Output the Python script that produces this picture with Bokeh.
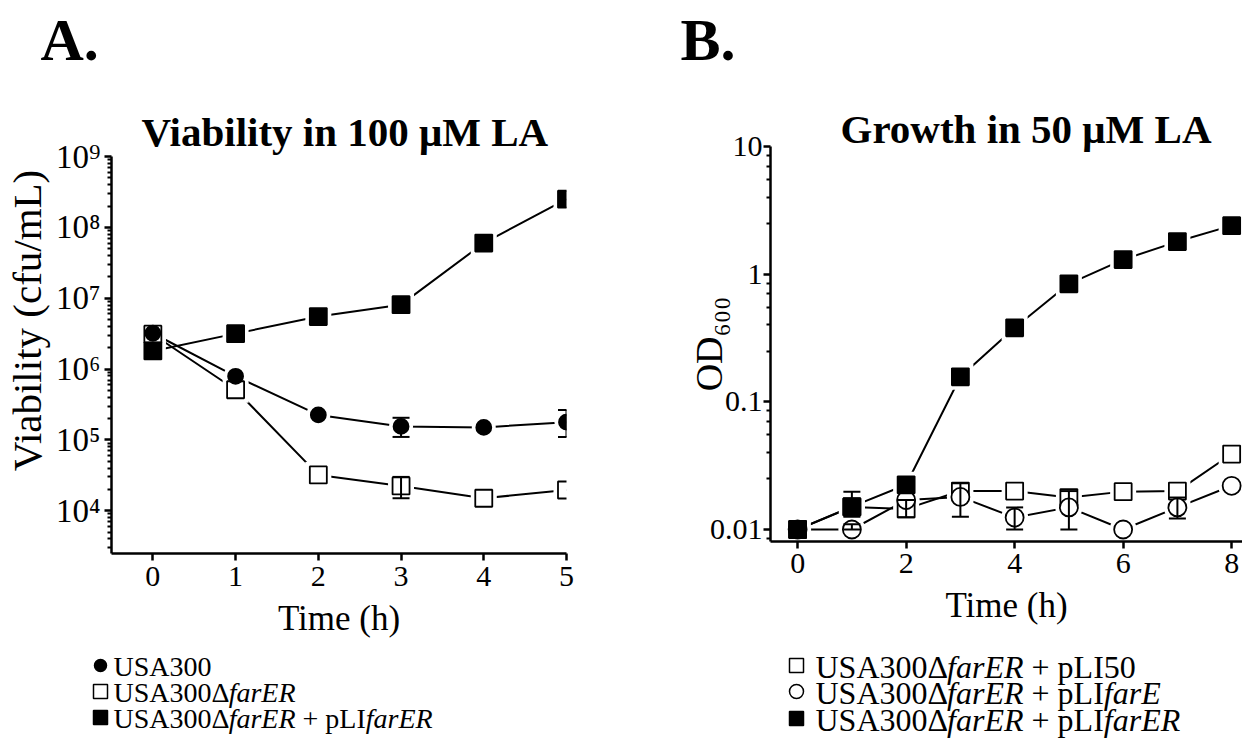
import math
from bokeh.plotting import figure
from bokeh.layouts import row, column
from bokeh.models import Range1d, FixedTicker
from bokeh.core.properties import value
from bokeh.embed import file_html
from bokeh.resources import INLINE

FONT = "Liberation Serif"

# ---------------- Panel A data: Viability in 100 uM LA ----------------
a_time = [0, 1, 2, 3, 4, 5]
a_usa300 = [3.2e6, 7.9e5, 2.25e5, 1.55e5, 1.5e5, 1.78e5]
a_delta = [3.1e6, 5.1e5, 3.2e4, 2.24e4, 1.5e4, 1.96e4]
a_comp = [1.8e6, 3.16e6, 5.5e6, 8.1e6, 6.0e7, 2.5e8]
a_usa300_err_t = [3, 5]
a_usa300_err_lo = [1.1e5, 1.1e5]
a_usa300_err_hi = [2.05e5, 2.65e5]
a_delta_err_t = [3]
a_delta_err_lo = [1.5e4]
a_delta_err_hi = [3.0e4]
a_xticks = [0, 1, 2, 3, 4, 5]
a_yticks = [1e4, 1e5, 1e6, 1e7, 1e8, 1e9]
a_ytick_labels = ["10⁴", "10⁵", "10⁶", "10⁷", "10⁸", "10⁹"]

# ---------------- Panel B data: Growth in 50 uM LA ----------------
b_time = [0, 1, 2, 3, 4, 5, 6, 7, 8]
b_pli50 = [0.01, 0.015, 0.0145, 0.02, 0.02, 0.0178, 0.0198, 0.02, 0.039]
b_farE = [0.01, 0.01, 0.017, 0.018, 0.0124, 0.0149, 0.01, 0.0149, 0.022]
b_farER = [0.01, 0.0151, 0.0224, 0.157, 0.38, 0.84, 1.3, 1.8, 2.4]
b_pli50_err_t = [2]
b_pli50_err_lo = [0.0125]
b_pli50_err_hi = [0.017]
b_farE_err_t = [1, 3, 4, 5, 7]
b_farE_err_lo = [0.01, 0.0126, 0.01, 0.01, 0.0122]
b_farE_err_hi = [0.011, 0.023, 0.0149, 0.02, 0.0178]
b_farER_err_t = [1]
b_farER_err_lo = [0.0126]
b_farER_err_hi = [0.0198]
b_xticks = [0, 2, 4, 6, 8]
b_yticks = [0.01, 0.1, 1, 10]
b_ytick_labels = ["0.01", "0.1", "1", "10"]

# ---------------- layout geometry (canvas pixels) ----------------
TOTAL_H = 743
HEAD_H = 100
MAIN_H = 540
LEG_H = TOTAL_H - HEAD_H - MAIN_H
A_W, B_W = 620, 622
STRIP_W = 52
A_L, A_R, A_T, A_B = 107, 566, 156, 555
A_X0, A_X1, A_LY0, A_LY1 = -0.5, 5.0, 3.396, 9.0
B_L, B_R, B_T, B_B = 770, 1242, 146, 541
B_X0, B_X1, B_LY0, B_LY1 = -0.5, 8.2, -2.094, 1.0


def style_axes(p, ylabel_size, xlabel_size, ystand, xstand):
    p.outline_line_color = None
    p.grid.visible = False
    for ax in p.axis:
        ax.axis_line_color = "black"
        ax.axis_line_width = 2.5
        ax.major_tick_line_color = "black"
        ax.major_tick_line_width = 2.5
        ax.minor_tick_line_color = "black"
        ax.minor_tick_line_width = 2
        ax.major_tick_in = 0
        ax.major_tick_out = 7
        ax.minor_tick_in = 0
        ax.minor_tick_out = 4
        ax.major_label_text_font = FONT
        ax.major_label_text_color = "black"
        ax.axis_label_text_font = FONT
        ax.axis_label_text_font_style = "normal"
        ax.axis_label_text_color = "black"
    p.yaxis.major_label_text_font_size = ylabel_size
    p.xaxis.major_label_text_font_size = xlabel_size
    p.yaxis.major_label_standoff = ystand
    p.xaxis.major_label_standoff = xstand


def style_title(p, text, offset, standoff):
    p.title.text = text
    p.title.text_font = FONT
    p.title.text_font_size = "41px"
    p.title.text_font_style = "bold"
    p.title.text_color = "black"
    p.title.align = "left"
    p.title.offset = offset
    p.title.standoff = standoff


def draw_series(p, specs):
    for t, v, marker, size, fill, _ in specs:
        p.line(t, v, line_color="black", line_width=2)
    for t, v, marker, size, fill, _ in specs:
        p.scatter(t, v, marker=marker, size=size + 9, fill_color="white", line_color=None)
    for t, v, marker, size, fill, _ in specs:
        p.scatter(t, v, marker=marker, size=size, fill_color=fill, line_color="black", line_width=1.8)
    for t, v, marker, size, fill, err in specs:
        if err is None:
            continue
        et, lo, hi = err
        p.segment(x0=et, y0=lo, x1=et, y1=hi, line_color="black", line_width=2)
        p.scatter(et, lo, marker="dash", size=17, line_color="black", line_width=2)
        p.scatter(et, hi, marker="dash", size=17, line_color="black", line_width=2)


def pixel_fig(x0, x1, top, bottom):
    """Figure whose data coordinates are canvas pixels: x = canvas x, y = TOTAL_H - canvas y."""
    f = figure(width=x1 - x0, height=bottom - top, x_range=Range1d(x0, x1),
               y_range=Range1d(TOTAL_H - bottom, TOTAL_H - top),
               output_backend="svg", toolbar_location=None, min_border=0,
               x_axis_location=None, y_axis_location=None, frame_align=False)
    f.grid.visible = False
    f.outline_line_color = None
    return f


def put_text(f, sx, sy, s, size, style="normal", align="left", angle=0.0):
    f.text([sx], [TOTAL_H - sy], text=[s], text_font=value(FONT), text_font_size=value(size),
           text_font_style=style, text_align=align, text_baseline="middle",
           text_color="black", angle=angle)


# ---------------- Panel A ----------------
pa = figure(width=A_W - STRIP_W, height=MAIN_H, x_range=Range1d(A_X0, A_X1),
            y_range=Range1d(10 ** A_LY0, 10 ** A_LY1), y_axis_type="log",
            output_backend="svg", toolbar_location=None, frame_align=False,
            min_border_left=A_L - STRIP_W, min_border_right=A_W - A_R,
            min_border_top=A_T - HEAD_H, min_border_bottom=HEAD_H + MAIN_H - A_B)
style_axes(pa, "33px", "30px", 4, 6)
pa.xaxis.ticker = FixedTicker(ticks=a_xticks)
pa.yaxis.ticker = FixedTicker(ticks=a_yticks,
                              minor_ticks=[m * 10 ** d for d in range(3, 9) for m in range(2, 10)])
pa.yaxis.major_label_overrides = {t: s for t, s in zip(a_yticks, a_ytick_labels)}
pa.xaxis.axis_label = "Time (h)"
pa.xaxis.axis_label_text_font_size = "35px"
pa.xaxis.axis_label_standoff = 10
style_title(pa, "Viability in 100 μM LA", 30, 3)

draw_series(pa, [
    (a_time, a_delta, "square", 17, "white", (a_delta_err_t, a_delta_err_lo, a_delta_err_hi)),
    (a_time, a_comp, "square", 17, "black", None),
    (a_time, a_usa300, "circle", 15, "black", (a_usa300_err_t, a_usa300_err_lo, a_usa300_err_hi)),
])

head_a = pixel_fig(0, A_W, 0, HEAD_H)
put_text(head_a, 40, 39, "A.", "60px", style="bold")

strip_a = pixel_fig(0, STRIP_W, HEAD_H, HEAD_H + MAIN_H)
put_text(strip_a, 26.5, 320, "Viability (cfu/mL)", "41px", align="center", angle=math.pi / 2)

# ---------------- Panel B ----------------
pb = figure(width=B_W, height=MAIN_H, x_range=Range1d(B_X0, B_X1),
            y_range=Range1d(10 ** B_LY0, 10 ** B_LY1), y_axis_type="log",
            output_backend="svg", toolbar_location=None, frame_align=False,
            min_border_left=B_L - A_W, min_border_right=0,
            min_border_top=B_T - HEAD_H, min_border_bottom=HEAD_H + MAIN_H - B_B)
style_axes(pb, "30px", "30px", 1, 5)
pb.xaxis.ticker = FixedTicker(ticks=b_xticks)
pb.yaxis.ticker = FixedTicker(ticks=b_yticks,
                              minor_ticks=[m * 10 ** d for d in range(-3, 1) for m in (2.5, 4, 5.5, 7, 8.5)])
pb.yaxis.major_label_overrides = {t: s for t, s in zip(b_yticks, b_ytick_labels)}
pb.xaxis.axis_label = "Time (h)"
pb.xaxis.axis_label_text_font_size = "35px"
pb.xaxis.axis_label_standoff = 10
pb.yaxis.axis_label = "OD₆₀₀"
pb.yaxis.axis_label_text_font_size = "38px"
pb.yaxis.axis_label_standoff = -23
style_title(pb, "Growth in 50 μM LA", 70, -10)

draw_series(pb, [
    (b_time, b_pli50, "square", 17, "white", (b_pli50_err_t, b_pli50_err_lo, b_pli50_err_hi)),
    (b_time, b_farE, "circle", 18, "white", (b_farE_err_t, b_farE_err_lo, b_farE_err_hi)),
    (b_time, b_farER, "square", 17, "black", (b_farER_err_t, b_farER_err_lo, b_farER_err_hi)),
])

head_b = pixel_fig(A_W, A_W + B_W, 0, HEAD_H)
put_text(head_b, 680, 39, "B.", "60px", style="bold")

# ---------------- legends ----------------
W_N = {"U": .722, "S": .556, "A": .722, "3": .5, "0": .5, "5": .5, "Δ": .612, " ": .25,
       "+": .564, "p": .5, "L": .611, "I": .333}
W_I = {"f": .278, "a": .5, "r": .389, "E": .611, "R": .611}


def twidth(s, italic, size):
    tbl = W_I if italic else W_N
    return sum(tbl.get(c, .5) for c in s) * size


def legend_rows(f, rows, tx, mx, size):
    px = float(size[:-2])
    for cy, marker, msize, fill, pieces in rows:
        f.scatter([mx], [TOTAL_H - cy], marker=marker, size=msize, fill_color=fill,
                  line_color="black", line_width=1.5)
        cx = tx
        for s, it in pieces:
            lead = len(s) - len(s.lstrip(" "))
            cx += lead * W_N[" "] * px
            s2 = s.lstrip(" ")
            put_text(f, cx, cy + 1, s2, size, style="italic" if it else "normal")
            cx += twidth(s2, it, px)


leg_a = pixel_fig(0, A_W, HEAD_H + MAIN_H, TOTAL_H)
legend_rows(leg_a, [
    (665, "circle", 12, "black", [("USA300", False)]),
    (691, "square", 14, "white", [("USA300Δ", False), ("farER", True)]),
    (717, "square", 14, "black", [("USA300Δ", False), ("farER", True), (" + pLI", False), ("farER", True)]),
], 113, 100, "28px")

leg_b = pixel_fig(A_W, A_W + B_W, HEAD_H + MAIN_H, TOTAL_H)
legend_rows(leg_b, [
    (665, "square", 14, "white", [("USA300Δ", False), ("farER", True), (" + pLI50", False)]),
    (691, "circle", 14, "white", [("USA300Δ", False), ("farER", True), (" + pLI", False), ("farE", True)]),
    (718, "square", 14, "black", [("USA300Δ", False), ("farER", True), (" + pLI", False), ("farER", True)]),
], 815, 796, "32px")

col_a = column(head_a, row(strip_a, pa, spacing=0), leg_a, spacing=0)
col_b = column(head_b, pb, leg_b, spacing=0)
layout = row(col_a, col_b, spacing=0)
open("out.html", "w").write(file_html(layout, INLINE))
